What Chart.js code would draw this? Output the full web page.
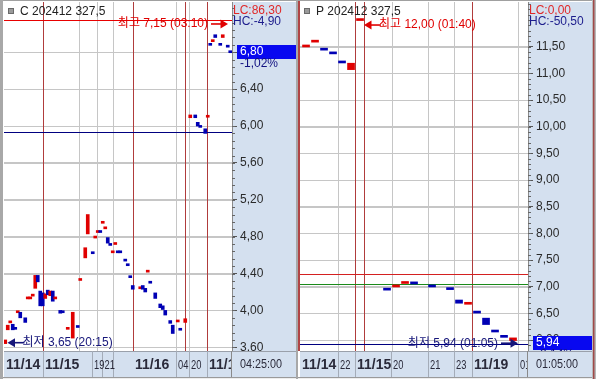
<!DOCTYPE html>
<html><head><meta charset="utf-8">
<script src="https://cdn.jsdelivr.net/npm/chart.js@4"></script>
<style>
html,body{margin:0;padding:0;background:#fff;}
#wrap{position:relative;width:596px;height:379px;overflow:hidden;background:#fff;}
#lc{position:absolute;left:0;top:0;}
#rc{position:absolute;left:298px;top:0;}
</style></head>
<body><div id="wrap"><canvas id="lc" width="298" height="379"></canvas><canvas id="rc" width="298" height="379"></canvas></div>
<script>
// ---------------- CALL panel data ----------------
const cTitle = 'C 202412 327,5';
const cSlots = [0,1,2,3,4,5,6,8,9,10,11,12,13,14,15,16,17,18,19,20,22,23,25,27,29,30,32,33,35,36,37,38,39,40,41,42,43,44,45,46,48,49,50,51,54,55,56,57,58,60,62,63,64,66,67,69,70,72,74,76,77,78,80,81,82,83,84,86,87,89,90];
const cOpen  = [3.64,3.79,3.865,3.85,3.805,3.975,3.98,3.92,4.125,4.125,4.155,4.24,4.38,4.21,4.19,4.13,4.22,4.16,4.21,4.125,4.00,3.985,3.795,3.70,3.825,4.325,4.57,4.83,4.625,4.785,4.845,4.855,4.945,4.885,4.79,4.715,4.625,4.715,4.635,4.635,4.545,4.495,4.365,4.27,4.235,4.27,4.24,4.415,4.305,4.19,4.07,4.05,4.00,3.89,3.84,3.875,3.795,3.87,6.09,6.12,6.04,5.995,5.97,6.095,6.885,6.915,6.99,6.885,6.96,6.865,6.805];
const cClose = [3.68,3.84,3.875,3.79,3.795,3.985,3.92,3.87,4.135,4.135,4.165,4.38,4.31,4.05,4.05,4.18,4.17,4.21,4.10,4.135,3.97,3.975,3.805,3.98,3.815,4.335,4.68,5.04,4.615,4.795,4.855,4.845,4.955,4.895,4.73,4.705,4.635,4.725,4.625,4.625,4.535,4.485,4.355,4.23,4.245,4.23,4.20,4.425,4.295,4.13,4.03,4.01,3.95,3.86,3.75,3.885,3.785,3.91,6.12,6.09,6.00,5.985,5.92,6.105,6.875,6.925,6.96,6.875,6.99,6.855,6.795];
const cTicks = [3.6,4.0,4.4,4.8,5.2,5.6,6.0,6.4,6.8];
const cDateLabels = ['11/14','11/15','19','21','11/16','04','20','11/19'];
const cDatePos = [-0.5,15.1,34.7,38.9,51.1,68.3,73.5,80.7];
const cBandSeps = [15.1,34.7,38.9,43.1,68.3,73.5,80.7];
const cGridSlots = [29.5,36.7,43.1,68.3,73.5];
const cDaySlots = [15.1,51.1,71.9,80.7];
const cRefLines = [[7.15,'#e80000'],[5.93,'#000080']];
const cMarks = [[7.15,89.1,'right','최고 7,15 (03:10)','#e00000',4],[3.65,0.9,'left','최저 3,65 (20:15)','#16167a',0]];
const cCurrent = 6.80, cPct = '-1,02%', cLC = 'LC:86,30', cHC = 'HC:-4,90', cTime = '04:25:00';

// ---------------- PUT panel data ----------------
const pTitle = 'P 202412 327,5';
const pSlots = [0,1,2,3,4,5,6,9,10,11,12,14,16,17,18,19,20,21,22,23];
const pOpen  = [11.495,11.585,11.445,11.375,11.205,11.07,11.99,6.945,6.995,7.06,7.09,7.005,6.955,6.75,6.67,6.515,6.41,6.16,6.06,5.99];
const pClose = [11.505,11.595,11.435,11.365,11.195,11.19,12.00,6.935,7.005,7.075,7.05,6.995,6.945,6.69,6.70,6.505,6.29,6.15,6.05,6.04];
const pTicks = [6.0,6.5,7.0,7.5,8.0,8.5,9.0,9.5,10.0,10.5,11.0,11.5];
const pDateLabels = ['11/14','22','11/15','20','21','23','11/19','01'];
const pDatePos = [-0.67,3.55,5.44,9.44,13.55,16.44,18.44,23.55];
const pBandSeps = [3.55,5.44,9.44,13.55,16.44,18.44,23.55];
const pGridSlots = [3.55,9.55,13.55,16.44,23.55];
const pDaySlots = [5.44,6.44,18.44];
const pRefLines = [[7.24,'#d42020'],[7.05,'#1a8a1a'],[5.93,'#000080']];
const pMarks = [[12.00,6.44,'left','최고 12,00 (01:40)','#e00000',5],[5.94,23.55,'right','최저 5,94 (01:05)','#16167a',0]];
const pCurrent = 5.94, pPct = '-2,14%', pLC = 'LC:0,00', pHC = 'HC:-50,50', pTime = '01:05:00';

// ---------------- rendering ----------------
const FONT = '"Liberation Sans", Arial, "Noto Sans CJK KR", sans-serif';
const AXISBG = '#d4e0ef', GRID = '#c6c6c6', DAYLINE = '#b03c3c';
const UP = '#e00000', DOWN = '#0000b4';
function fmt(v){ return v.toFixed(2).replace('.', ','); }
function txt(ctx, s, x, y, font, color, align, sx){
  ctx.save(); ctx.font = font; ctx.fillStyle = color; ctx.textBaseline = 'middle';
  ctx.textAlign = align || 'left'; ctx.translate(x, y); ctx.scale(sx || 1, 1);
  ctx.fillText(s, 0, 0); ctx.restore();
}
function arrow(ctx, tipX, y, dir, color){
  const d = dir === 'right' ? -1 : 1;
  ctx.save(); ctx.strokeStyle = color; ctx.fillStyle = color; ctx.lineWidth = 1.6;
  ctx.beginPath(); ctx.moveTo(tipX + d*5, y); ctx.lineTo(tipX + d*17, y); ctx.stroke();
  ctx.beginPath(); ctx.moveTo(tipX, y); ctx.lineTo(tipX + d*7.5, y - 4.5); ctx.lineTo(tipX + d*7.5, y + 4.5); ctx.closePath(); ctx.fill();
  ctx.restore();
}
function vline(ctx, x, y0, y1, color, w){
  ctx.save(); ctx.strokeStyle = color; ctx.lineWidth = w || 1;
  ctx.beginPath(); ctx.moveTo(Math.round(x) + 0.5, y0); ctx.lineTo(Math.round(x) + 0.5, y1); ctx.stroke(); ctx.restore();
}
function hline(ctx, y, x0, x1, color){
  ctx.save(); ctx.strokeStyle = color; ctx.lineWidth = 1;
  ctx.beginPath(); ctx.moveTo(x0, Math.round(y) + 0.5); ctx.lineTo(x1, Math.round(y) + 0.5); ctx.stroke(); ctx.restore();
}

function makePanel(id, p){
  const data = p.slots.map((s, i) => ({x: s, y: [p.open[i], p.close[i]]}));
  const colors = p.open.map((o, i) => p.close[i] >= o ? UP : DOWN);
  const plugin = {
    id: 'panel_' + id,
    beforeDraw(chart){
      const {ctx, chartArea: a, width, height} = chart;
      ctx.save();
      ctx.fillStyle = '#fff'; ctx.fillRect(0, 0, width, height);
      ctx.fillStyle = AXISBG; ctx.fillRect(a.right, a.top, p.axisW, a.bottom - a.top);
      ctx.restore();
    },
    beforeDatasetsDraw(chart){
      const {ctx, chartArea: a, scales: {x, y}} = chart;
      ctx.save(); ctx.beginPath(); ctx.rect(a.left, a.top, a.right - a.left, a.bottom - a.top); ctx.clip();
      p.ticks.forEach(v => hline(ctx, y.getPixelForValue(v), a.left, a.right, GRID));
      p.grid.forEach(s => vline(ctx, x.getPixelForValue(s), a.top, a.bottom, GRID));
      p.days.forEach(s => vline(ctx, x.getPixelForValue(s), a.top, a.bottom, DAYLINE));
      p.refs.forEach(r => hline(ctx, y.getPixelForValue(r[0]), a.left, a.right, r[1]));
      ctx.restore();
    },
    afterDraw(chart){
      const {ctx, chartArea: a, scales: {x, y}, width} = chart;
      // minor ticks
      ctx.save(); ctx.strokeStyle = '#666'; ctx.lineWidth = 1;
      for (let k = -200; k < 200; k++){
        const v = p.ticks[0] + k * p.minor;
        if (v < y.min || v > y.max) continue;
        const py = Math.round(y.getPixelForValue(v)) + 0.5;
        ctx.beginPath(); ctx.moveTo(a.right, py); ctx.lineTo(a.right + 3, py); ctx.stroke();
      }
      ctx.restore();
      // header
      ctx.save(); ctx.fillStyle = '#9a9a9a'; ctx.strokeStyle = '#6a6a6a';
      ctx.fillRect(a.left + 4.5, 8.5, 5, 5); ctx.strokeRect(a.left + 4.5, 8.5, 5, 5); ctx.restore();
      txt(ctx, p.title, a.left + 16, 12, '12px ' + FONT, '#222');
      // LC / HC
      txt(ctx, p.lc, a.right + 1, 11, '12px ' + FONT, '#e02828');
      txt(ctx, p.hc, a.right + 1, 22, '12px ' + FONT, '#1c1c8c');
      // high / low marks
      p.marks.forEach(m => {
        const tip = x.getPixelForValue(m[1]);
        const py = y.getPixelForValue(m[0]) + m[5];
        arrow(ctx, tip, py, m[2], m[4]);
        if (m[2] === 'right') txt(ctx, m[3], tip - 20, py, '12px ' + FONT, m[4], 'right');
        else txt(ctx, m[3], tip + 15, py, '12px ' + FONT, m[4], 'left');
      });
      // current price box
      const cy = Math.round(y.getPixelForValue(p.cur));
      ctx.save(); ctx.fillStyle = '#0808f0'; ctx.fillRect(a.right + 5, cy - 7, p.axisW - 5, 14); ctx.restore();
      txt(ctx, fmt(p.cur), a.right + 8, cy, '12px ' + FONT, '#fff');
      txt(ctx, p.pct, a.right + 8, cy + 12, '12px ' + FONT, '#101080');
      // date band
      const bt = a.bottom, bb = 377;
      ctx.save(); ctx.fillStyle = AXISBG; ctx.fillRect(a.left, bt, a.right - a.left + p.axisW, bb - bt); ctx.restore();
      hline(ctx, bt, a.left, a.right + p.axisW, '#9aa0aa');
      p.seps.forEach(s => vline(ctx, x.getPixelForValue(s), bt, bb, '#a4acb8'));
      vline(ctx, a.right - 1, bt, bb, '#8a8a8a');
      ctx.save(); ctx.beginPath(); ctx.rect(a.left, bt, a.right - a.left - 1, bb - bt); ctx.clip();
      p.dates.forEach((d, i) => {
        const px = x.getPixelForValue(p.datePos[i]) + 2;
        if (d.indexOf('/') >= 0) txt(ctx, d, px, 365, 'bold 14px ' + FONT, '#2a2a3a');
        else txt(ctx, d, px, 365, '13px ' + FONT, '#2a2a3a', 'left', 0.72);
      });
      ctx.restore();
      txt(ctx, p.time, a.right + 8, 365, '12px ' + FONT, '#2a2a3a', 'left', 0.9);
      // bottom strip
      ctx.save(); ctx.fillStyle = '#ededed'; ctx.fillRect(0, bb, width, 379 - bb); ctx.restore();
      hline(ctx, bb, 0, width, '#9a9a9a');
      // frame
      hline(ctx, 0, 0, width, '#a0a0a0');
      if (p.side === 'left'){
        ctx.save(); ctx.fillStyle = '#a8a8a8'; ctx.fillRect(0, 0, 3, 379); ctx.fillRect(width - 2, 0, 2, 379); ctx.restore();
      } else {
        ctx.save(); ctx.fillStyle = '#b04444'; ctx.fillRect(0, 1, 2, a.bottom - 1);
        ctx.fillStyle = '#b8b8b8'; ctx.fillRect(width - 4, 0, 4, 379);
        ctx.fillStyle = '#a04848'; ctx.fillRect(width - 3, 0, 1.5, 379); ctx.restore();
      }
    }
  };
  return new Chart(document.getElementById(id), {
    type: 'bar',
    data: {datasets: [{data, backgroundColor: colors, borderWidth: 0, barThickness: p.barW, minBarLength: 2, borderSkipped: false}]},
    options: {
      responsive: false, animation: false, events: [],
      layout: {padding: {left: p.padL, right: p.padR, top: 2, bottom: 28}},
      plugins: {legend: {display: false}, tooltip: {enabled: false}},
      scales: {
        x: {type: 'linear', display: false, min: p.xMin, max: p.xMax, offset: false},
        y: {
          position: 'right', min: p.yMin, max: p.yMax,
          afterBuildTicks(s){ s.ticks = p.ticks.map(v => ({value: v})); },
          afterFit(s){ s.width = p.axisW; s.paddingTop = 0; s.paddingBottom = 0; },
          grid: {color: GRID, tickLength: 5, tickColor: '#555', lineWidth: 1},
          border: {color: '#8a8a8a'},
          ticks: {callback: v => fmt(v), color: '#2a2a2a', font: {family: FONT, size: 12}, padding: 3, autoSkip: false}
        }
      }
    },
    plugins: [plugin]
  });
}

makePanel('lc', {side: 'left', title: cTitle, slots: cSlots, open: cOpen, close: cClose, ticks: cTicks, minor: 0.08,
  dates: cDateLabels, datePos: cDatePos, seps: cBandSeps, grid: cGridSlots, days: cDaySlots, refs: cRefLines, marks: cMarks,
  cur: cCurrent, pct: cPct, lc: cLC, hc: cHC, time: cTime,
  barW: 3, padL: 4, padR: 2, axisW: 64, xMin: -0.5, xMax: 90.7, yMin: 3.560, yMax: 7.345});
makePanel('rc', {side: 'right', title: pTitle, slots: pSlots, open: pOpen, close: pClose, ticks: pTicks, minor: 0.1,
  dates: pDateLabels, datePos: pDatePos, seps: pBandSeps, grid: pGridSlots, days: pDaySlots, refs: pRefLines, marks: pMarks,
  cur: pCurrent, pct: pPct, lc: pLC, hc: pHC, time: pTime,
  barW: 7, padL: 2, padR: 4, axisW: 64, xMin: -0.67, xMax: 24.663, yMin: 5.794, yMax: 12.338});
</script>
</body></html>
